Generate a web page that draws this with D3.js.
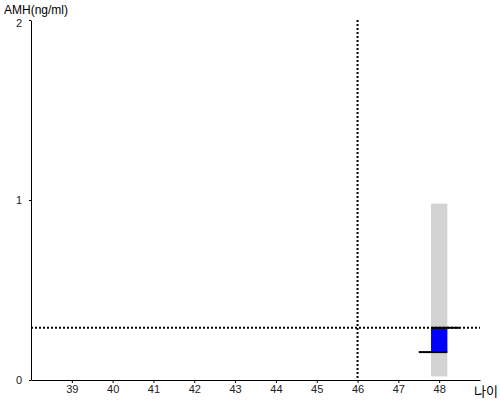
<!DOCTYPE html>
<html>
<head>
<meta charset="utf-8">
<script src="https://cdn.jsdelivr.net/npm/d3@7"></script>
<style>
  body { margin: 0; background: #fff; }
  svg { display: block; font-family: "Liberation Sans", Arial, sans-serif; }
</style>
</head>
<body>
<div id="chart"></div>
<script>
const width = 500;
const height = 400;

// data
const ageTicks = [39, 40, 41, 42, 43, 44, 45, 46, 47, 48];
const amhTicks = [0, 1, 2];
const refRange = [{ age: 48, low: 0.02, high: 0.98 }];
const amhBox = [{ age: 48, low: 0.155, high: 0.29 }];
const markerLines = [
    { x0: 47.8, x1: 48.5, value: 0.29 },
    { x0: 47.5, x1: 48.2, value: 0.155 }
];
const userAge = 46;
const userAmh = 0.29;

const x = d3.scaleLinear().domain([38, 49]).range([31, 480]);
const y = d3.scaleLinear().domain([0, 2]).range([380, 20]);

const svg = d3.select("#chart").append("svg")
    .attr("width", width)
    .attr("height", height);

// gray reference range
svg.selectAll("rect.range")
    .data(refRange)
    .enter().append("rect")
    .attr("class", "range")
    .attr("x", d => x(d.age - 0.2))
    .attr("width", x(0.4) - x(0))
    .attr("y", d => y(d.high))
    .attr("height", d => y(d.low) - y(d.high))
    .attr("fill", "#d3d3d3");

// blue box
svg.selectAll("rect.box")
    .data(amhBox)
    .enter().append("rect")
    .attr("class", "box")
    .attr("x", d => x(d.age - 0.2))
    .attr("width", x(0.4) - x(0))
    .attr("y", d => y(d.high))
    .attr("height", d => y(d.low) - y(d.high))
    .attr("fill", "#0000ff");

// dotted guides
svg.append("line")
    .attr("x1", x(38)).attr("x2", x(49))
    .attr("y1", y(userAmh)).attr("y2", y(userAmh))
    .attr("stroke", "#000").attr("stroke-width", 2)
    .attr("stroke-dasharray", "2,2");

svg.append("line")
    .attr("x1", x(userAge)).attr("x2", x(userAge))
    .attr("y1", y(2)).attr("y2", y(0))
    .attr("stroke", "#000").attr("stroke-width", 2)
    .attr("stroke-dasharray", "2,2");

// black markers
svg.selectAll("line.marker")
    .data(markerLines)
    .enter().append("line")
    .attr("class", "marker")
    .attr("x1", d => x(d.x0)).attr("x2", d => x(d.x1))
    .attr("y1", d => y(d.value)).attr("y2", d => y(d.value))
    .attr("stroke", "#000").attr("stroke-width", 2);

// axes
const xAxis = svg.append("g")
    .attr("transform", `translate(0,${y(0)})`)
    .call(d3.axisBottom(x).tickValues(ageTicks).tickSize(3).tickSizeOuter(0).tickPadding(2));
xAxis.select(".domain").attr("stroke", "#000");
xAxis.selectAll("text").style("font-size", "11px").attr("fill", "#222");

const yAxis = svg.append("g")
    .attr("transform", `translate(${x(38)},0)`)
    .call(d3.axisLeft(y).tickValues(amhTicks).tickFormat(d3.format("d")).tickSize(2).tickSizeOuter(0).tickPadding(7));
yAxis.select(".domain").attr("stroke", "#000");
yAxis.selectAll("text").style("font-size", "11px").attr("fill", "#222");
yAxis.selectAll("text").filter(d => d === 2).attr("dy", "0.55em");

// titles
svg.append("text")
    .attr("x", 4).attr("y", 14)
    .style("font-size", "12px")
    .text("AMH(ng/ml)");

svg.append("text")
    .attr("x", 474).attr("y", 396)
    .style("font-size", "13px")
    .style("font-family", "'Noto Sans CJK KR', sans-serif")
    .attr("fill", "#000")
    .text("나이");
</script>
</body>
</html>
